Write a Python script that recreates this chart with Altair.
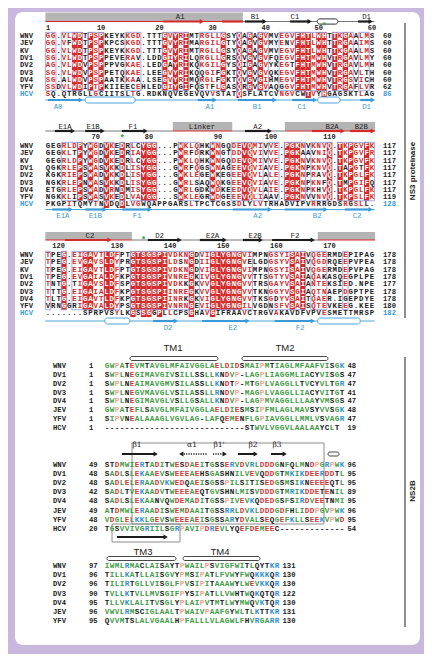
import altair as alt
import pandas as pd

# ---------------- data ----------------
NS3_NAMES = ["WNV", "JEV", "KV", "DV1", "DV2", "DV3", "DV4", "YFV", "HCV"]
NS3_BLOCK1 = [
    "GG.VLWDTPSPKEYKKGD.TTTGVYRIMTRGLLGSYQAGAGVMVEGVFHTLWHTTKGAALMS",
    "GG.VFWDTPSPKPCSKGD.TTTGVYRIMARGILGTYQAGVGVMYENVFHTLWHTTRGAAIMS",
    "GG.VLWDTPSPKEYKKGD.TTTGVYRIMTRGLLGSYQAGAGVMVEGVFHTLWHTTKGAALMS",
    "SG.VLWDTPSPPEVERAV.LDDGIYRILQRGLLGRSQVGVGVFQEGVFHTMWHVTRGAVLMY",
    "AG.VLWDVPSPPPVGKAE.LEDGAYRIKQKGILGYSQIGAGVYKEGTFHTMWHVTRGAVLMH",
    "SG.VLWDVPSPPETQKAE.LEEGVYRIKQQGIFGKTQVGVGVQKEGVFHTMWHVTRGAVLTH",
    "SG.ALWDVPSPAATKKAA.LSEGVYRIMQRGLFGKTQVGVGIHMEGVFHTMWHVTRGSVICH",
    "SSDVLWDIPTPKIIEECEHLEDGIYGIFQSTFLGASQRGVGVAQGGVFHTMWHVTRGAFLVR",
    "SQ.QTRGLLGCIITSLTG.RDKNQVEGEVQVVSTATQSFLATCVNGVCWTVYHGAGSKTLAG",
]
NS3_BLOCK2 = [
    "GEGRLDPYWGDVKEDRLCYGG...PWKLQHKWNGQDEVQMIVVE.PGKNVKNVQ.TKPGVFK",
    "GEGKLTPYWGDVKEDRIAYGG...PWRFDRKWNGTDDVQVIVVE.PGKAAVNIQ.TKPGVFR",
    "GEGRLDPYWGDVKEDRLCYGG...PWKLQHKWNGQDEVQMIVVE.PGKNVKNVQ.TKPGVFK",
    "QGKRLEPSWASVKKDLISYGG...GWRFQGSWNAGEEVQVIAVE.PGKNPKNVQ.TAPGTFK",
    "KGKRIEPSWADVKKDLISYGG...GWKLEGEWKEGEEVQVLALE.PGKNPRAVQ.TKPGLFK",
    "NGKRLEPNWASVKKDLISYGG...GWRLSAQWQKGEEVQVIAVE.PGKNPKNFQ.TMPGIFQ",
    "ETGRLEPSWADVRNDMISYGG...GWRLGDKWDKEEDVQVLAIE.PGKNPKHVQ.TKPGLFK",
    "NGKKLIPSWASVKEDLVAYGG...SWKLEGRWDGEEEVQLIAAV.PGKNVVNVQ.TKPSLFK",
    "PKGPITQMYTNVDQDLVGWQAPPGARSLTPCTCGSSDLYLVTRHADVIPVRRRGDSRGSLL.",
]
NS3_BLOCK3 = [
    "TPEG.EIGAVTLDFPTGTSGSPIVDKNGDVIGLYGNGVIMPNGSYISAIVQGERMDEPIPAG",
    "TPEG.EVGAVSLDYPRGTSGSPILDSNGDIIGLYGNGVELGDGSYVSAIVQGDRQEEPVPEA",
    "TPEG.EIGAVTLDFPTGTSGSPIVDKNGDVIGLYGNGVIMPNGSYISAIVQGERMDEPVPAG",
    "TPEG.EVGAIALDFKPGTSGSPIVNREGKIVGLYGNGVVTTSGTYVSAIAQAKASQEGPLPE",
    "TNTG.TIGAVSLDFSPGTSGSPIVDKKGKVVGLYGNGVVTRSGAYVSAIANTEKSIED.NPE",
    "TTTG.EIGAIALDFKPGTSGSPIINREGKVVGLYGNGVVTKNGGYVSGIAQTNAEPDGPTPE",
    "TLTG.EIGAVTLDFKPGTSGSPIINRKGKVIGLYGNGVVTKSGDYVSAITQAER.IGEPDYE",
    "VRNGGRIGAVALDYPSGTSGSPIVNRNGEVIGLYGNGILVGDNSFVSAISQTEVKEEG.KEE",
    ".......SPRPVSYLKGSSGGPLLCPSGHAVGIFRAAVCTRGVAKAVDFVPVESMETTMRSP",
]
NS3_END1 = [60, 60, 60, 60, 60, 60, 60, 62, 86]
NS3_END2 = [117, 117, 117, 117, 117, 117, 117, 119, 128]
NS3_END3 = [178, 178, 178, 178, 177, 178, 178, 180, 182]
NS3_WNV_START = [1, 61, 118]
CATALYTIC = [51, 75, 135]

# secondary structure (WNV, top) in alignment columns
TOP_GRAY = [[(-0.5, 36.7)], [(23.5, 34.7), (44.6, 61.6)], [(-0.5, 15.8), (50.8, 61.6)]]
TOP_RED_LINE = [[(-0.5, 36.7)], [(23.5, 34.7), (44.6, 61.6)], [(-0.5, 15.8), (50.8, 61.6)]]
TOP_DARK_LINE = [[(36.7, 61.5)], [(-0.5, 23.5), (34.7, 44.6)], [(15.8, 50.8)]]
TOP_ARROWS = [
    [(21.7, 29.4, "r"), (37.1, 41.2, "k"), (45.6, 49.7, "k"), (58.4, 61.2, "k")],
    [(1.3, 5.1, "k"), (7.0, 10.7, "k"), (13.9, 18.8, "k"), (37.1, 42.2, "k"), (49.7, 55.9, "r"), (56.9, 61.6, "r")],
    [(3.2, 12.0, "r"), (18.8, 25.2, "k"), (28.6, 33.7, "k"), (36.7, 40.5, "k"), (42.2, 50.3, "k")],
]
TOP_RED_BARS = [[(32.8, 36.7)], [], []]
TOP_HELIX = [[(50.7, 54.6)], [], []]
TOP_LABELS = [
    [("A1", 24.9), ("B1", 39.0), ("C1", 46.5), ("D1", 60.0)],
    [("E1A", 3.2), ("E1B", 8.5), ("F1", 16.0), ("Linker", 29.0), ("A2", 39.5), ("B2A", 53.5), ("B2B", 59.0)],
    [("C2", 7.9), ("D2", 21.0), ("E2A", 31.0), ("E2B", 39.0), ("F2", 46.5)],
]
# secondary structure (HCV, bottom)
HCV_ARROWS = [
    [(0.0, 6.6), (28.2, 31.8), (35.8, 43.1), (46.0, 50.7), (58.8, 61.6)],
    [(0.8, 4.7), (7.0, 11.1), (14.0, 19.6), (34.8, 42.2), (44.6, 52.7), (55.9, 61.2)],
    [(19.8, 24.5), (29.0, 38.0), (42.7, 50.3)],
]
HCV_HELIX = [[(7.0, 16.4), (50.8, 55.0)], [], [(10.7, 15.4), (50.8, 58.8)]]
HCV_LABELS = [
    [("A0", 1.9), ("A1", 30.5), ("B1", 39.4), ("C1", 47.8), ("D1", 60.0)],
    [("E1A", 2.8), ("E1B", 8.9), ("F1", 16.8), ("A2", 39.5), ("B2", 50.7), ("C2", 58.2)],
    [("D2", 22.6), ("E2", 34.8), ("F2", 47.5)],
]

NS2B_NAMES = ["WNV", "DV1", "DV2", "DV3", "DV4", "JEV", "YFV", "HCV"]
NS2B_A = [
    "GWPATEVMTAVGLMFAIVGGLAELDIDSMAIPMTIAGLMFAAFVISGK",
    "SWPLNEGIMAVGIVSILLSSLLKNDVP-LAGPLIAGGMLIACYVISGS",
    "SWPLNEAIMAVGMVSILASSLLKNDTP-MTGPLVAGGLLTVCYVLTGR",
    "SWPLNEGVMAVGLVSILASSLLRNDVP-MAGPLVAGGLLIACYVITGT",
    "SWPLNEGIMAVGLVSLLGSALLKNDVP-LAGPMVAGGLLLAAYVMSGS",
    "GWPATEFLSAVGLMFAIVGGLAELDIESMSIPFMLAGLMAVSYVVSGK",
    "SIPVNEALAAAGLVGVLAG-LAFQEMENFLGPIAVGGLLMMLVSVAGR",
    "----------------------------STWVLVGGVLAALAAYCLT",
]
NS2B_A_START = [1, 1, 1, 1, 1, 1, 1, 1]
NS2B_A_END = [48, 47, 47, 41, 47, 48, 47, 19]
NS2B_B = [
    "STDMWIERTADITWESDAEITGSSERVDVRLDDDGNFQLMNDPGRPWK",
    "SADLSLEKAAEVSWEEEAEHSGASHNILVEVQDDGTMKIKDEERDDTL",
    "SADLELERAADVKWEDQAEISGSSPILSITISEDGSMSIKNEEEEQTL",
    "SADLTVEKAADVTWEEEAEQTGVSHNLMISVDDDGTMRIKDDETENIL",
    "SADLSLEKAANVQWDEMADITGSSPIVEVKQDEDGSFSIRDVEETNMI",
    "ATDMWLERAADISWEMDAAITGSSRRLDVKLDDDGDFHLIDDPGVPWK",
    "VDGLELKKLGEVSWEEEAEISGSSARYDVALSEQGEFKLLSEEKVPWD",
    "TGSVVIVGRIILSGRPAVIPDREVLYQEFDEMEEC-------------",
]
NS2B_B_START = [49, 48, 48, 42, 48, 49, 48, 20]
NS2B_B_END = [96, 95, 95, 89, 95, 96, 95, 54]
NS2B_C = [
    "IWMLRMACLAISAYTPWAILPSVIGFWITLQYTKR",
    "TILLKATLLAISGVYPMSIPATLFVWYFWQKKKQR",
    "TILIRTGLLVISGLFPVSIPITAAAWYLWEVKKQR",
    "TVLLKTVLLMVSGIFPYSIPATLLVWHTWQKQTQR",
    "TLLVKLALITVSGLYPLAIPVTMTLWYMWQVKTQR",
    "VWVLRMSCIGLAALTPWAIVPAAFGYWLTLKTTKR",
    "QVVMTSLALVGAALHPFALLLVLAGWLFHVRGARR",
]
NS2B_C_START = [97, 96, 96, 90, 95, 96, 95]
NS2B_C_END = [131, 130, 130, 122, 130, 131, 130]

TM_LABELS = [("TM1", 13.2, 0), ("TM2", 35.6, 0), ("TM3", 7.2, 2), ("TM4", 22.6, 2)]
TM_BARS = [(4.6, 22.2, 0), (27.0, 44.2, 0), (0.0, 13.8, 2), (15.2, 30.6, 2)]
BETA_SOLID = [("β1", 3.0, 10.2, 6.0), ("β2", 26.2, 30.2, 29.2), ("β3", 32.8, 36.0, 34.0)]
BETA_DOTTED = [("α1", 14.4, 20.0, 17.0, "left"), ("β1'", 21.2, 24.0, 22.4, "right")]

# ---------------- layout / style ----------------
PURPLE = "#c9b8de"
RED = "#d42a2a"
INK = "#1c1c1c"
BLUE = "#3a9ad8"
FRAME = "#8e96d2"
GRAY = "#b4b4b4"
GREEN = "#3f9c45"
RED2 = "#d33b3b"
BLUE2 = "#2f8fd4"
PINK = "#f2a38f"

X0_NS3, DX_NS3, DY_NS3 = 48.0, 5.31, 7.3
NS3_ROW0_Y = [36.0, 146.0, 255.0]
NS3_TOP = [
    dict(line=21.5, box=(12.5, 21.0), label=16.5, ruler=27.5, star=25.0),
    dict(line=131.0, box=(122.0, 131.0), label=126.5, ruler=137.0, star=137.0),
    dict(line=240.0, box=(232.0, 240.0), label=235.5, ruler=246.0, star=238.5),
]
NS3_HCV_Y = [100.0, 209.5, 321.0]
NS3_HCV_LABEL_Y = [107.0, 215.5, 328.0]

X0_NS2B, DX_NS2B = 107.0, 5.0
NS2B_ROW0_Y = [366.0, 465.0, 566.0]
NS2B_DY = [8.85, 9.1, 9.17]
NS2B_NCOL = [48, 48, 35]

GROUPS = ["ILVM", "FYW", "KRH", "DENQ", "STAG", "P", "C"]


def group_of(ch):
    for i, g in enumerate(GROUPS):
        if ch in g:
            return i
    return -1


def res_color(ch):
    if ch in "AVLIMFWG":
        return GREEN
    if ch in "DE":
        return RED2
    if ch in "KR":
        return BLUE2
    if ch == "P":
        return PINK
    return INK


def nx(c):
    return X0_NS3 + c * DX_NS3


def bx(c):
    return X0_NS2B + c * DX_NS2B


fills, outlines, rules, dashed, heads, shapes, boxes, texts = [], [], [], [], [], [], [], []


def add_arrow(x0, x1, y, color, w=2.2, direction="right", dash=False):
    h = 2.3
    target = dashed if dash else rules
    if direction == "right":
        target.append(dict(x=x0, x2=x1 - h, y=y, y2=y, c=color, w=w))
        heads.append(dict(x=x1 - h, y=y, c=color, s=24, sh="triangle-right"))
    else:
        target.append(dict(x=x0 + h, x2=x1, y=y, y2=y, c=color, w=w))
        heads.append(dict(x=x0 + h, y=y, c=color, s=24, sh="triangle-left"))


def add_text(x, y, t, c, st):
    texts.append(dict(x=x, y=y, t=t, c=c, st=st))


# ---------------- NS3 proteinase ----------------
NS3_BLOCKS = [NS3_BLOCK1, NS3_BLOCK2, NS3_BLOCK3]
NS3_ENDS = [NS3_END1, NS3_END2, NS3_END3]
for b in range(3):
    blk = NS3_BLOCKS[b]
    y0 = NS3_ROW0_Y[b]
    top = NS3_TOP[b]
    ncol = len(blk[0])
    status = []
    for j in range(ncol):
        col = [s[j] for s in blk[:8]]
        ident = col[0] != "." and len(set(col)) == 1
        sg = None
        if not ident:
            cnt = {}
            for ch in col:
                g = group_of(ch)
                if g >= 0:
                    cnt[g] = cnt.get(g, 0) + 1
            if cnt:
                g, n = max(cnt.items(), key=lambda kv: kv[1])
                if n >= 6:
                    sg = g
        status.append((ident, sg))
    ytop = y0 - DY_NS3 / 2
    ybot = y0 + 7.5 * DY_NS3
    for j, (ident, sg) in enumerate(status):
        if ident:
            fills.append(dict(x=nx(j - 0.5), x2=nx(j + 0.5), y=ytop, y2=ybot, c=RED))
            if blk[8][j] == blk[0][j]:
                fills.append(dict(x=nx(j - 0.5), x2=nx(j + 0.5), y=ybot, y2=ybot + DY_NS3, c=RED))
    j = 0
    while j < ncol:
        if status[j][0] or status[j][1] is not None:
            k = j
            while k + 1 < ncol and (status[k + 1][0] or status[k + 1][1] is not None):
                k += 1
            outlines.append(dict(x=nx(j - 0.5), x2=nx(k + 0.5), y=ytop, y2=ybot, c=FRAME))
            j = k + 1
        else:
            j += 1
    for i, s in enumerate(blk):
        y = y0 + i * DY_NS3
        for j, ch in enumerate(s):
            ident, sg = status[j]
            if ident and (i < 8 or ch == blk[0][j]):
                c = "white"
            elif sg is not None and group_of(ch) == sg:
                c = RED
            else:
                c = INK
            add_text(nx(j), y, ch, c, "seq")
        add_text(20, y, NS3_NAMES[i], BLUE if i == 8 else INK, "lab")
        add_text(383, y, str(NS3_ENDS[b][i]), BLUE if i == 8 else INK, "lab")
    # ruler & catalytic residues
    r = NS3_WNV_START[b]
    for j, ch in enumerate(blk[0]):
        if ch == ".":
            continue
        if r == 1 or r % 10 == 0:
            add_text(nx(j), top["ruler"], str(r), INK, "ruler")
        if r in CATALYTIC:
            add_text(nx(j), top["star"], "*", "#36a24a", "star")
        r += 1
    # top structure
    for c0, c1 in TOP_GRAY[b]:
        fills.append(dict(x=nx(c0), x2=nx(c1), y=top["box"][0], y2=top["box"][1], c=GRAY))
    for c0, c1 in TOP_RED_LINE[b]:
        rules.append(dict(x=nx(c0), x2=nx(c1), y=top["line"], y2=top["line"], c=RED, w=1.2))
    for c0, c1 in TOP_DARK_LINE[b]:
        rules.append(dict(x=nx(c0), x2=nx(c1), y=top["line"], y2=top["line"], c="#555555", w=0.8))
    for c0, c1, kind in TOP_ARROWS[b]:
        add_arrow(nx(c0), nx(c1), top["line"], RED if kind == "r" else INK)
    for c0, c1 in TOP_RED_BARS[b]:
        rules.append(dict(x=nx(c0), x2=nx(c1), y=top["line"], y2=top["line"], c=RED, w=2.2))
    for c0, c1 in TOP_HELIX[b]:
        shapes.append(dict(x=nx(c0), x2=nx(c1), y=top["line"] - 2.6, y2=top["line"] + 2.6, c=INK))
    for name, c in TOP_LABELS[b]:
        add_text(nx(c), top["label"], name, INK, "head")
    # HCV structure
    yh = NS3_HCV_Y[b]
    rules.append(dict(x=nx(-0.5), x2=nx(61.5), y=yh, y2=yh, c=BLUE, w=0.9))
    for c0, c1 in HCV_ARROWS[b]:
        add_arrow(nx(c0), nx(c1), yh, BLUE)
    for c0, c1 in HCV_HELIX[b]:
        shapes.append(dict(x=nx(c0), x2=nx(c1), y=yh - 3, y2=yh + 3, c=BLUE))
    for name, c in HCV_LABELS[b]:
        add_text(nx(c), NS3_HCV_LABEL_Y[b], name, BLUE, "head")

# ---------------- NS2B ----------------
NS2B_BLOCKS = [NS2B_A, NS2B_B, NS2B_C]
NS2B_STARTS = [NS2B_A_START, NS2B_B_START, NS2B_C_START]
NS2B_ENDS = [NS2B_A_END, NS2B_B_END, NS2B_C_END]
for b in range(3):
    blk = NS2B_BLOCKS[b]
    y0 = NS2B_ROW0_Y[b]
    dy = NS2B_DY[b]
    for i, s in enumerate(blk):
        y = y0 + i * dy
        add_text(53, y, NS2B_NAMES[i], INK, "lab")
        add_text(89, y, str(NS2B_STARTS[b][i]), INK, "lab")
        add_text(bx(NS2B_NCOL[b]) + 0.5, y, str(NS2B_ENDS[b][i]), INK, "lab")
        for j, ch in enumerate(s):
            add_text(bx(j), y, ch, res_color(ch), "seq2")

TM_BAR_Y = {0: 358.5, 2: 558.5}
TM_LABEL_Y = {0: 348.0, 2: 552.0}
for name, c, blkid in TM_LABELS:
    add_text(bx(c), TM_LABEL_Y[blkid], name, INK, "tm")
for c0, c1, blkid in TM_BARS:
    shapes.append(dict(x=bx(c0), x2=bx(c1), y=TM_BAR_Y[blkid] - 2, y2=TM_BAR_Y[blkid] + 2, c="#333333"))

BETA_Y, BETA_LABEL_Y = 454.0, 445.0
for name, c0, c1, cl in BETA_SOLID:
    add_arrow(bx(c0), bx(c1), BETA_Y, INK, w=2.0)
    add_text(bx(cl), BETA_LABEL_Y, name, INK, "greek")
for name, c0, c1, cl, d in BETA_DOTTED:
    add_arrow(bx(c0), bx(c1), BETA_Y, INK, w=1.6, direction=d, dash=True)
    add_text(bx(cl), BETA_LABEL_Y, name, INK, "greek")
shapes.append(dict(x=bx(44.2), x2=bx(46.4), y=BETA_Y - 2, y2=BETA_Y + 2, c="#333333"))
boxes.append(dict(x=bx(5.0), x2=bx(43.4), y=443.0, y2=524.0, c="#8c8c8c"))
boxes.append(dict(x=bx(1.0), x2=bx(14.6), y=524.0, y2=542.0, c="#8c8c8c"))
add_arrow(bx(2.0), bx(12.2), 537.0, INK, w=2.0)

# side bars and labels
rules.append(dict(x=405, x2=405, y=23, y2=318, c=INK, w=1.0))
rules.append(dict(x=405, x2=405, y=357, y2=627, c=INK, w=1.0))
add_text(413, 171, "NS3 proteinase", INK, "side")
add_text(413, 491, "NS2B", INK, "side")

# ---------------- chart ----------------
XS = alt.Scale(domain=[8, 424], nice=False, zero=False)
YS = alt.Scale(domain=[8, 654], nice=False, zero=False, reverse=True)


def enc_rect():
    return dict(
        x=alt.X("x:Q", scale=XS, axis=None),
        x2=alt.X2("x2:Q"),
        y=alt.Y("y:Q", scale=YS, axis=None),
        y2=alt.Y2("y2:Q"),
    )


panel = alt.Chart(pd.DataFrame([dict(x=15, x2=420, y=12, y2=645)])).mark_rect(
    fill="white", cornerRadius=8
).encode(**enc_rect())

fill_layer = alt.Chart(pd.DataFrame(fills)).mark_rect().encode(
    color=alt.Color("c:N", scale=None), **enc_rect()
)
outline_layer = alt.Chart(pd.DataFrame(outlines)).mark_rect(
    filled=False, strokeWidth=0.8
).encode(color=alt.Color("c:N", scale=None), **enc_rect())
box_layer = alt.Chart(pd.DataFrame(boxes)).mark_rect(
    filled=False, strokeWidth=1.0
).encode(color=alt.Color("c:N", scale=None), **enc_rect())
rule_layer = alt.Chart(pd.DataFrame(rules)).mark_rule().encode(
    color=alt.Color("c:N", scale=None),
    strokeWidth=alt.StrokeWidth("w:Q", scale=None),
    **enc_rect(),
)
dash_layer = alt.Chart(pd.DataFrame(dashed)).mark_rule(strokeDash=[1.2, 1.2]).encode(
    color=alt.Color("c:N", scale=None),
    strokeWidth=alt.StrokeWidth("w:Q", scale=None),
    **enc_rect(),
)
heads_df = pd.DataFrame(heads)
head_layers = []
for shp in ["triangle-right", "triangle-left"]:
    sub = heads_df[heads_df["sh"] == shp]
    if len(sub):
        head_layers.append(
            alt.Chart(sub).mark_point(shape=shp, filled=True, opacity=1).encode(
                x=alt.X("x:Q", scale=XS, axis=None),
                y=alt.Y("y:Q", scale=YS, axis=None),
                color=alt.Color("c:N", scale=None),
                size=alt.Size("s:Q", scale=None),
            )
        )
shape_layer = alt.Chart(pd.DataFrame(shapes)).mark_rect(
    fill="white", cornerRadius=2.5, strokeWidth=0.9
).encode(stroke=alt.Stroke("c:N", scale=None), **enc_rect())

STYLES = {
    "seq": dict(font="Liberation Mono", fontSize=7.4, fontWeight="bold", align="center"),
    "seq2": dict(font="Liberation Mono", fontSize=7.7, fontWeight="bold", align="center"),
    "lab": dict(font="Liberation Mono", fontSize=7.2, fontWeight="bold", align="left"),
    "head": dict(font="Liberation Mono", fontSize=7.3, align="center"),
    "ruler": dict(font="Liberation Mono", fontSize=7.0, fontWeight="bold", align="center"),
    "star": dict(font="Liberation Sans", fontSize=9, fontWeight="bold", align="center"),
    "tm": dict(font="Liberation Sans", fontSize=9.5, align="center"),
    "greek": dict(font="DejaVu Serif", fontSize=7.5, align="center"),
    "side": dict(font="Liberation Sans", fontSize=8, fontWeight="bold", align="center", angle=270),
}
texts_df = pd.DataFrame(texts)
text_layers = []
for st, kw in STYLES.items():
    sub = texts_df[texts_df["st"] == st]
    if len(sub) == 0:
        continue
    text_layers.append(
        alt.Chart(sub).mark_text(baseline="middle", **kw).encode(
            x=alt.X("x:Q", scale=XS, axis=None),
            y=alt.Y("y:Q", scale=YS, axis=None),
            text=alt.Text("t:N"),
            color=alt.Color("c:N", scale=None),
        )
    )

chart = alt.layer(
    panel, fill_layer, outline_layer, box_layer, rule_layer, dash_layer,
    *head_layers, shape_layer, *text_layers
).properties(
    width=416, height=646, padding=0, background=PURPLE
).configure_view(strokeWidth=0)

chart.save("out.html", embed_options={"renderer": "svg", "actions": False})
